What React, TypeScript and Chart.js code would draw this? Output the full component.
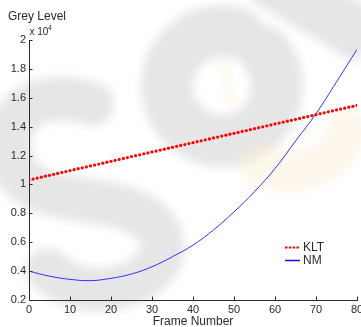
import React, { useEffect, useRef } from "react";
import { Chart, registerables } from "chart.js";

Chart.register(...registerables);

const frames = [
  0, 1, 2, 3, 4, 5, 6, 7, 8, 9, 10, 11, 12, 13, 14, 15, 16, 17, 18, 19, 20,
  21, 22, 23, 24, 25, 26, 27, 28, 29, 30, 31, 32, 33, 34, 35, 36, 37, 38, 39, 40,
  41, 42, 43, 44, 45, 46, 47, 48, 49, 50, 51, 52, 53, 54, 55, 56, 57, 58, 59, 60,
  61, 62, 63, 64, 65, 66, 67, 68, 69, 70, 71, 72, 73, 74, 75, 76, 77, 78, 79, 80,
];

const kltValues = [
  1.031, 1.037, 1.044, 1.05, 1.057, 1.063, 1.07, 1.076, 1.083, 1.089, 1.096,
  1.102, 1.109, 1.115, 1.121, 1.128, 1.134, 1.141, 1.147, 1.154, 1.16,
  1.167, 1.173, 1.18, 1.186, 1.193, 1.199, 1.205, 1.212, 1.218, 1.225,
  1.231, 1.238, 1.244, 1.251, 1.257, 1.264, 1.27, 1.276, 1.283, 1.289,
  1.296, 1.302, 1.309, 1.315, 1.322, 1.328, 1.335, 1.341, 1.348, 1.354,
  1.36, 1.367, 1.373, 1.38, 1.386, 1.393, 1.399, 1.406, 1.412, 1.419,
  1.425, 1.432, 1.438, 1.444, 1.451, 1.457, 1.464, 1.47, 1.477, 1.483,
  1.49, 1.496, 1.503, 1.509, 1.516, 1.522, 1.528, 1.535, 1.541, 1.548,
];

const nmFrames = [0, 5, 10, 15, 20, 25, 30, 35, 40, 45, 50, 55, 60, 65, 70, 75, 80];
const nmValues = [
  0.4, 0.365, 0.343, 0.334, 0.35, 0.38, 0.43, 0.5, 0.58, 0.685, 0.81, 0.95,
  1.11, 1.3, 1.49, 1.71, 1.935,
];

const seriesNames = ["KLT", "NM"];
const xTitle = "Frame Number";
const yTitle = "Grey Level";
const FONT = "'Liberation Sans', Arial, Helvetica, sans-serif";
const TEXT = "#2a2a2a";

const watermarkPlugin = {
  id: "watermark",
  beforeDraw(chart: any) {
    const { ctx } = chart;
    ctx.save();
    ctx.filter = "blur(5px)";
    ctx.lineCap = "round";
    ctx.lineJoin = "round";
    // S
    ctx.strokeStyle = "#e6e6e6";
    ctx.lineWidth = 44;
    ctx.beginPath();
    ctx.moveTo(92, 104);
    ctx.bezierCurveTo(40, 88, 0, 110, 12, 160);
    ctx.bezierCurveTo(22, 200, 75, 196, 118, 206);
    ctx.bezierCurveTo(170, 218, 178, 262, 134, 282);
    ctx.bezierCurveTo(100, 296, 70, 290, 48, 270);
    ctx.stroke();
    // G ring
    ctx.lineWidth = 52;
    ctx.beginPath();
    ctx.arc(222, 86, 55, (-38 * Math.PI) / 180, (288 * Math.PI) / 180);
    ctx.stroke();
    // G top arm
    ctx.lineWidth = 55;
    ctx.lineCap = "butt";
    ctx.beginPath();
    ctx.moveTo(262, -25);
    ctx.lineTo(370, 40);
    ctx.stroke();
    // yellowish lower part of G
    ctx.strokeStyle = "rgba(250,238,212,0.45)";
    ctx.lineWidth = 40;
    ctx.lineCap = "round";
    ctx.beginPath();
    ctx.arc(290, 110, 62, (20 * Math.PI) / 180, (120 * Math.PI) / 180);
    ctx.stroke();
    ctx.strokeStyle = "rgba(250,236,205,0.5)";
    ctx.lineWidth = 6;
    ctx.beginPath();
    ctx.moveTo(222, 62);
    ctx.lineTo(232, 105);
    ctx.stroke();
    ctx.restore();
  },
};

const overlayPlugin = {
  id: "overlay",
  afterDraw(chart: any) {
    const { ctx, chartArea, scales } = chart;
    const xs = scales.x;
    const ys = scales.y;
    ctx.save();
    ctx.strokeStyle = TEXT;
    ctx.lineWidth = 1;
    ctx.beginPath();
    ys.ticks.forEach((t: any) => {
      const py = Math.round(ys.getPixelForValue(t.value)) + 0.5;
      ctx.moveTo(chartArea.left, py);
      ctx.lineTo(chartArea.left + 3.5, py);
    });
    xs.ticks.forEach((t: any) => {
      const px = Math.round(xs.getPixelForValue(t.value)) + 0.5;
      ctx.moveTo(px, chartArea.bottom);
      ctx.lineTo(px, chartArea.bottom - 3.5);
    });
    ctx.stroke();

    ctx.fillStyle = TEXT;
    ctx.textBaseline = "middle";
    ctx.textAlign = "left";
    ctx.font = `12px ${FONT}`;
    ctx.fillText(yTitle, 8, 17);
    ctx.font = `10px ${FONT}`;
    ctx.fillText("x 10", 29.5, 32.5);
    ctx.font = `7px ${FONT}`;
    ctx.fillText("4", 48, 28.5);

    const lx = 285;
    const ly1 = 247.5;
    const ly2 = 260.5;
    ctx.strokeStyle = "#ff0000";
    ctx.lineWidth = 2;
    ctx.setLineDash([2.5, 1.3]);
    ctx.beginPath();
    ctx.moveTo(lx, ly1);
    ctx.lineTo(lx + 15, ly1);
    ctx.stroke();
    ctx.setLineDash([]);
    ctx.strokeStyle = "#1010ff";
    ctx.lineWidth = 1.5;
    ctx.beginPath();
    ctx.moveTo(lx, ly2);
    ctx.lineTo(lx + 15, ly2);
    ctx.stroke();
    ctx.fillStyle = TEXT;
    ctx.font = `12px ${FONT}`;
    ctx.fillText(seriesNames[0], lx + 18, ly1);
    ctx.fillText(seriesNames[1], lx + 18, ly2);
    ctx.restore();
  },
};

export default function App() {
  const ref = useRef<HTMLCanvasElement | null>(null);

  useEffect(() => {
    document.body.style.margin = "0";
    const canvas = ref.current;
    if (!canvas) return;
    const chart = new Chart(canvas, {
      type: "line",
      data: {
        datasets: [
          {
            label: seriesNames[0],
            data: frames.map((f, i) => ({ x: f, y: kltValues[i] })),
            showLine: false,
            pointRadius: 1.6,
            pointBorderWidth: 0,
            pointBackgroundColor: "#ff0000",
            borderColor: "#ff0000",
            backgroundColor: "#ff0000",
          },
          {
            label: seriesNames[1],
            data: nmFrames.map((f, i) => ({ x: f, y: nmValues[i] })),
            borderColor: "#3030ff",
            borderWidth: 1,
            pointRadius: 0,
            tension: 0.4,
            fill: false,
          },
        ],
      },
      options: {
        animation: false,
        responsive: false,
        devicePixelRatio: 1,
        layout: { padding: { top: 40, right: 2, left: 0, bottom: 0 } },
        plugins: { legend: { display: false }, tooltip: { enabled: false } },
        scales: {
          x: {
            type: "linear",
            min: 0,
            max: 80,
            ticks: {
              stepSize: 10,
              padding: 3,
              maxRotation: 0,
              color: TEXT,
              font: { family: FONT, size: 11 },
            },
            grid: { display: false, drawTicks: false },
            border: { display: true, color: TEXT, width: 1 },
            title: {
              display: true,
              text: xTitle,
              color: TEXT,
              font: { family: FONT, size: 12 },
              padding: { top: 0, bottom: -2 },
            },
            afterFit: (s: any) => {
              s.height = 27;
              s.paddingLeft = 0;
              s.paddingRight = 0;
            },
          },
          y: {
            min: 0.2,
            max: 2,
            ticks: {
              stepSize: 0.2,
              padding: 3,
              color: TEXT,
              font: { family: FONT, size: 11 },
              callback: (v: any) => String(Number(Number(v).toFixed(1))),
            },
            grid: { display: false, drawTicks: false },
            border: { display: true, color: TEXT, width: 1 },
            afterFit: (s: any) => {
              s.width = 29;
              s.paddingTop = 0;
              s.paddingBottom = 0;
            },
          },
        },
      },
      plugins: [watermarkPlugin, overlayPlugin],
    });
    return () => chart.destroy();
  }, []);

  return (
    <div style={{ position: "fixed", left: 0, top: 0, width: 361, height: 327, background: "#fff" }}>
      <canvas ref={ref} width={361} height={327} style={{ width: 361, height: 327, display: "block" }} />
    </div>
  );
}
